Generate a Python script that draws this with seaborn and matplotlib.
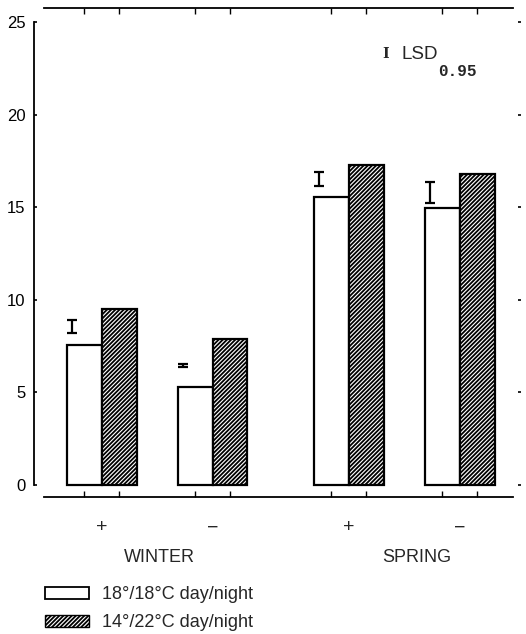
import numpy as np
import pandas as pd
import seaborn as sns
import matplotlib.pyplot as plt
from matplotlib.patches import Patch

# values
groups = ['WINTER +', 'WINTER -', 'SPRING +', 'SPRING -']
group_pos = [0, 1, 2.23, 3.23]
tick_labels = ['+', '\u2212', '+', '\u2212']
seasons = ['WINTER', 'SPRING']
season_pos = [0.52, 2.84]
conditions = ['18\u00b0/18\u00b0C day/night', '14\u00b0/22\u00b0C day/night']
warm_even = [7.55, 5.3, 15.55, 14.95]      # 18/18
cool_warm = [9.5, 7.9, 17.3, 16.8]         # 14/22
lsd_center = [8.55, 6.45, 16.5, 15.8]
lsd_half = [0.35, 0.08, 0.38, 0.58]

sns.set_style('white')
plt.rcParams['font.family'] = ['Liberation Sans', 'DejaVu Sans']
plt.rcParams['hatch.linewidth'] = 1.3

df = pd.DataFrame({
    'pos': group_pos * 2,
    'value': warm_even + cool_warm,
    'condition': [conditions[0]] * 4 + [conditions[1]] * 4,
})

fig = plt.figure(figsize=(5.26, 6.34), dpi=100)
ax = fig.add_axes([44 / 526, 1 - 497 / 634, 469 / 526, 489 / 634])

sns.barplot(data=df, x='pos', y='value', hue='condition', native_scale=True,
            width=0.63, palette=['white', 'white'], edgecolor='black',
            linewidth=1.6, errorbar=None, legend=False, ax=ax)

for p in ax.containers[1]:
    p.set_hatch('////////')

# LSD bars sit just inside the left edge of the white bar
for p, c, h in zip(ax.containers[0], lsd_center, lsd_half):
    ax.errorbar(p.get_x() + 0.045, c, yerr=h, fmt='none', ecolor='black',
                elinewidth=1.6, capsize=3.8, capthick=1.6)

ax.set_xlim(-0.52, 3.71)
ax.set_ylim(-0.65, 25.75)
ax.set_xlabel('')
ax.set_ylabel('')

# axes frame
for s in ['top', 'bottom']:
    ax.spines[s].set_linewidth(1.3)
    ax.spines[s].set_color('black')
ax.spines['left'].set_position(('outward', 7.2))
ax.spines['left'].set_bounds(0, 25)
ax.spines['left'].set_linewidth(1.3)
ax.spines['left'].set_color('black')
ax.spines['right'].set_visible(False)
ax.spines['right'].set_position(('outward', 6))

ax.set_yticks([0, 5, 10, 15, 20, 25])
ax.yaxis.set_ticks_position('both')
ax.tick_params(axis='y', which='major', direction='in', length=4, width=1.2,
               pad=6, labelsize=12, colors='black')
ax.tick_params(axis='y', which='major', right=True, length=2, labelright=False)

ax.set_xticks(group_pos)
ax.set_xticklabels(tick_labels, fontsize=14)
ax.tick_params(axis='x', which='major', length=0, pad=16)
bar_centers = sorted(p.get_x() + p.get_width() / 2 for p in ax.patches)
ax.set_xticks(bar_centers, minor=True)
ax.tick_params(axis='x', which='minor', direction='in', length=4, width=1,
               bottom=True, top=True, color='black')

trans = ax.get_xaxis_transform()
for s, x in zip(seasons, season_pos):
    ax.text(x, -0.123, s, transform=trans, ha='center', va='center', fontsize=13)

# LSD key
ax.text(0.728, 0.905, 'I', transform=ax.transAxes, ha='center', va='center',
        fontsize=10, fontweight='bold', family='DejaVu Serif')
t = ax.text(0.762, 0.905, 'LSD', transform=ax.transAxes, ha='left',
            va='center', fontsize=13.5)
ax.annotate('0.95', xy=(1, 0), xycoords=t, xytext=(0, -1),
            textcoords='offset points', ha='left', va='top', fontsize=11.5,
            fontweight='bold', family='Liberation Mono')

handles = [Patch(facecolor='white', edgecolor='black', linewidth=1.3),
           Patch(facecolor='white', edgecolor='black', linewidth=1.0,
                 hatch='////////')]
fig.legend(handles, conditions, loc='upper left',
           bbox_to_anchor=(38 / 526, 1 - 579 / 634), frameon=False,
           fontsize=13, handlelength=2.4, handleheight=0.65,
           handletextpad=0.75, labelspacing=0.6, borderaxespad=0)

fig.savefig('out.png', dpi=100)
